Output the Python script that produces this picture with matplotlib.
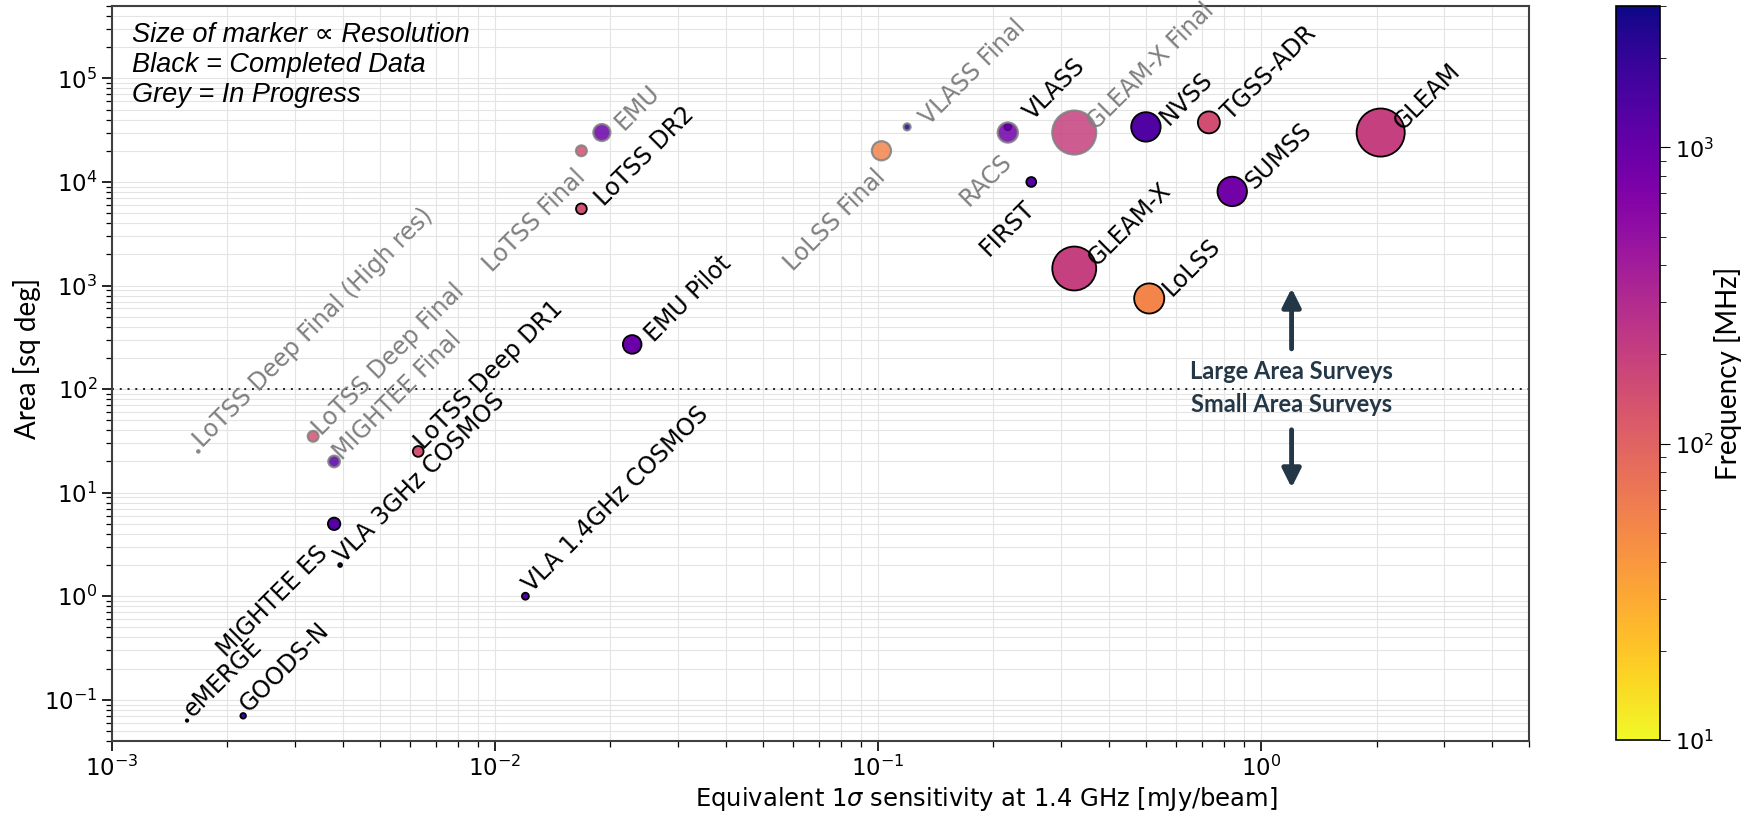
import matplotlib.pyplot as plt
import numpy as np
from matplotlib.colors import LogNorm
from matplotlib.cm import ScalarMappable

# radio continuum surveys: equivalent 1-sigma depth at 1.4 GHz vs sky area
names = ['eMERGE', 'GOODS-N', 'VLA 3GHz COSMOS', 'VLA 1.4GHz COSMOS',
         'MIGHTEE ES', 'MIGHTEE Final', 'LoTSS Deep Final',
         'LoTSS Deep Final (High res)', 'LoTSS Deep DR1', 'EMU Pilot',
         'LoTSS DR2', 'LoTSS Final', 'EMU', 'LoLSS Final', 'VLASS Final',
         'VLASS', 'RACS', 'FIRST', 'GLEAM-X Final', 'GLEAM-X', 'NVSS',
         'LoLSS', 'TGSS-ADR', 'SUMSS', 'GLEAM']
sensitivity = [0.00157, 0.0022, 0.00394, 0.012,
               0.0038, 0.0038, 0.00335,
               0.00168, 0.0063, 0.0228,
               0.0168, 0.0168, 0.019, 0.102, 0.119,
               0.218, 0.218, 0.251, 0.325, 0.325, 0.50,
               0.51, 0.73, 0.84, 2.05]  # mJy/beam
area = [0.063, 0.07, 2.0, 1.0,
        5.0, 20, 35,
        25, 25, 270,
        5500, 20000, 30000, 20000, 34000,
        34000, 30000, 10000, 30000, 1460, 34000,
        750, 37600, 8100, 30000]  # sq deg
frequency = [1500, 1500, 3000, 1400,
             1284, 1284, 144,
             144, 144, 944,
             144, 144, 944, 54, 3000,
             3000, 888, 1400, 200, 200, 1400,
             54, 150, 843, 200]  # MHz
resolution = [0.3, 1.6, 0.75, 2.5,
              8, 7, 6,
              0.3, 6, 18,
              6, 6, 15, 19, 2.5,
              2.5, 21, 5, 100, 100, 45,
              47, 25, 45, 120]  # arcsec
completed = [True, True, True, True,
             True, False, False,
             False, True, True,
             True, False, False, False, False,
             True, False, True, False, True, True,
             True, True, True, True]

# where each name goes relative to its marker
below_left = {'LoTSS Final': (-6, -10), 'LoLSS Final': (-6, -10),
              'RACS': (-6, -12), 'FIRST': (-6, -10), 'MIGHTEE ES': (-13, -13)}
next_to = {'eMERGE': (4, 2), 'GOODS-N': (4, 2), 'VLA 3GHz COSMOS': (3, 1),
           'VLA 1.4GHz COSMOS': (5, 2), 'MIGHTEE Final': (6, 0),
           'LoTSS Deep Final': (6, 0), 'LoTSS Deep Final (High res)': (3, 2),
           'LoTSS Deep DR1': (4, 1), 'VLASS': (18, 4)}

x = np.array(sensitivity)
y = np.array(area)
freq = np.array(frequency)
size = 10 * np.array(resolution)
done = np.array(completed)

norm = LogNorm(vmin=10, vmax=3000)
cmap = 'plasma_r'
narrow = ['Liberation Sans Narrow', 'Lato', 'DejaVu Sans']

fig = plt.figure(figsize=(17.43, 8.13), dpi=100)
ax = fig.add_axes([112 / 1743, 72 / 813, 1417 / 1743, 735 / 813])
cax = fig.add_axes([1616 / 1743, 73 / 813, 44 / 1743, 734 / 813])

ax.scatter(x[done], y[done], s=size[done], c=freq[done], cmap=cmap, norm=norm,
           edgecolors='black', linewidths=1.3, zorder=3)
ax.scatter(x[~done], y[~done], s=size[~done], c=freq[~done], cmap=cmap, norm=norm,
           edgecolors='grey', linewidths=1.6, alpha=0.85, zorder=4)

for i, name in enumerate(names):
    colour = 'black' if completed[i] else 'grey'
    if name in below_left:
        ax.annotate(name, (x[i], y[i]), xytext=below_left[name],
                    textcoords='offset points', rotation=45,
                    rotation_mode='anchor', ha='right', va='top',
                    fontsize=17, color=colour, zorder=5)
    else:
        off = next_to.get(name, (16, 1))
        ax.annotate(name, (x[i], y[i]), xytext=off,
                    textcoords='offset points', rotation=45,
                    rotation_mode='anchor', ha='left', va='baseline',
                    fontsize=17, color=colour, zorder=5)

ax.set_xscale('log')
ax.set_yscale('log')
ax.set_xlim(1e-3, 5)
ax.set_ylim(0.04, 5e5)
ax.grid(True, which='both', color='#e4e4e4', lw=0.8, zorder=0)
ax.set_axisbelow(True)
for sp in ax.spines.values():
    sp.set_color('#404040')
    sp.set_linewidth(1.5)
ax.tick_params(which='major', labelsize=16.5, length=7, width=1.2)
ax.tick_params(which='minor', length=4, width=0.9)

ax.set_xlabel(r'Equivalent 1$\sigma$ sensitivity at 1.4 GHz [mJy/beam]', fontsize=17.5)
ax.xaxis.set_label_coords(0.617, -0.06)
ax.set_ylabel('Area [sq deg]', fontsize=20, family=narrow)
ax.yaxis.set_label_coords(-0.05, 0.52)

# divide between large and small area surveys
ax.axhline(100, color='#222222', ls=(0, (1, 3)), lw=1.4, zorder=2)
slate = '#243746'
ax.annotate('', xy=(1.2, 1000), xytext=(1.2, 230),
            arrowprops=dict(arrowstyle='-|>', color=slate, lw=3.5, mutation_scale=28))
ax.annotate('', xy=(1.2, 10.5), xytext=(1.2, 43),
            arrowprops=dict(arrowstyle='-|>', color=slate, lw=3.5, mutation_scale=28))
ax.text(1.2, 148, 'Large Area Surveys', ha='center', va='center', fontsize=17,
        fontweight='bold', color=slate, family=['Lato', 'DejaVu Sans'])
ax.text(1.2, 71, 'Small Area Surveys', ha='center', va='center', fontsize=17,
        fontweight='bold', color=slate, family=['Lato', 'DejaVu Sans'])

ax.text(0.014, 0.978, 'Size of marker \u221d Resolution\nBlack = Completed Data\nGrey = In Progress',
        transform=ax.transAxes, ha='left', va='top', fontsize=19.5, style='italic',
        linespacing=1.2, family=['Liberation Sans', 'DejaVu Sans'])

sm = ScalarMappable(norm=norm, cmap=cmap)
cb = fig.colorbar(sm, cax=cax)
cb.ax.tick_params(which='major', labelsize=16, length=7)
cb.ax.tick_params(which='minor', length=4)
cb.set_label('Frequency [MHz]', fontsize=20, family=narrow, va='center')
cb.ax.yaxis.set_label_coords(2.55, 0.5)
cb.outline.set_linewidth(1.2)

fig.savefig('out.png', dpi=100)
